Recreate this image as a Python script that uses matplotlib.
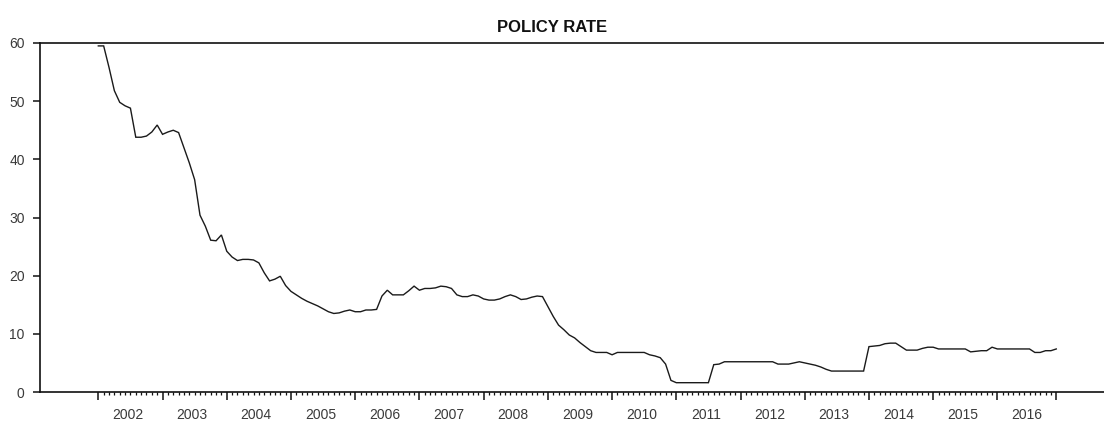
import matplotlib
matplotlib.use("Agg")
import matplotlib.pyplot as plt
from matplotlib.transforms import blended_transform_factory
import numpy as np

plt.rcParams["font.family"] = ["Liberation Sans", "DejaVu Sans"]

# Monthly policy rate (%), January 2002 through December 2016
start_year = 2002
policy_rate = [
    # 2002
    59.5, 59.5, 55.8, 51.8, 49.8, 49.2, 48.8, 43.8, 43.8, 44.0, 44.7, 45.9,
    # 2003
    44.3, 44.7, 45.0, 44.6, 42.0, 39.4, 36.5, 30.4, 28.5, 26.1, 26.0, 27.0,
    # 2004
    24.2, 23.2, 22.6, 22.8, 22.8, 22.7, 22.2, 20.5, 19.1, 19.4, 19.9, 18.3,
    # 2005
    17.3, 16.7, 16.1, 15.6, 15.2, 14.8, 14.3, 13.8, 13.5, 13.6, 13.9, 14.1,
    # 2006
    13.8, 13.8, 14.1, 14.1, 14.2, 16.5, 17.5, 16.7, 16.7, 16.7, 17.4, 18.2,
    # 2007
    17.5, 17.8, 17.8, 17.9, 18.2, 18.1, 17.8, 16.7, 16.4, 16.4, 16.7, 16.5,
    # 2008
    16.0, 15.8, 15.8, 16.0, 16.4, 16.7, 16.4, 15.9, 16.0, 16.3, 16.5, 16.4,
    # 2009
    14.7, 13.0, 11.5, 10.7, 9.8, 9.3, 8.5, 7.8, 7.1, 6.8, 6.8, 6.8,
    # 2010
    6.4, 6.8, 6.8, 6.8, 6.8, 6.8, 6.8, 6.4, 6.2, 5.9, 4.8, 2.0,
    # 2011
    1.6, 1.6, 1.6, 1.6, 1.6, 1.6, 1.6, 4.7, 4.8, 5.2, 5.2, 5.2,
    # 2012
    5.2, 5.2, 5.2, 5.2, 5.2, 5.2, 5.2, 4.8, 4.8, 4.8, 5.0, 5.2,
    # 2013
    5.0, 4.8, 4.6, 4.3, 3.9, 3.6, 3.6, 3.6, 3.6, 3.6, 3.6, 3.6,
    # 2014
    7.8, 7.9, 8.0, 8.3, 8.4, 8.4, 7.8, 7.2, 7.2, 7.2, 7.5, 7.7,
    # 2015
    7.7, 7.4, 7.4, 7.4, 7.4, 7.4, 7.4, 6.9, 7.0, 7.1, 7.1, 7.7,
    # 2016
    7.4, 7.4, 7.4, 7.4, 7.4, 7.4, 7.4, 6.8, 6.8, 7.1, 7.1, 7.4,
]
years = list(range(2002, 2017))
year_labels = [str(y) for y in years]
y_ticks = [0, 10, 20, 30, 40, 50, 60]
title = "POLICY RATE"

t = start_year + np.arange(len(policy_rate)) / 12.0

fig = plt.figure(figsize=(11.04, 4.21), dpi=100)
ax = fig.add_axes([40 / 1104, 1 - 392 / 421, 1 - 40 / 1104, (392 - 43) / 421])

ax.plot(t, policy_rate, color="#1a1a1a", linewidth=1.0, solid_joinstyle="miter")

ax.set_xlim(2001.092, 2017.66)
ax.set_ylim(0, 60)

for side in ("left", "top", "bottom"):
    ax.spines[side].set_linewidth(1.2)
    ax.spines[side].set_color("#111111")
ax.spines["right"].set_visible(False)

# y axis
ax.set_yticks(y_ticks)
ax.set_yticklabels([str(v) for v in y_ticks])
ax.tick_params(axis="y", direction="out", length=5, width=1.1, color="#111111",
               labelsize=10, labelcolor="#3a3a3a", pad=6)

# x axis: long ticks at each year start, short ticks every month
major = list(years) + [t[-1]]
ax.set_xticks(major)
ax.set_xticklabels([])
ax.set_xticks(t, minor=True)
ax.tick_params(axis="x", which="major", direction="out", length=6, width=1.1,
               color="#111111")
ax.tick_params(axis="x", which="minor", direction="out", length=2.5, width=0.9,
               color="#111111")

# year labels centred within each year
trans = blended_transform_factory(ax.transData, ax.transAxes)
for y, lab in zip(years, year_labels):
    ax.text(y + 5.5 / 12, -0.045, lab, transform=trans, ha="center", va="top",
            fontsize=10, color="#3a3a3a")

fig.text(0.5, 1 - 28 / 421, title, ha="center", va="center", fontsize=12,
         fontweight="bold", color="#111111")

fig.savefig("out.png", dpi=100, facecolor="white")
